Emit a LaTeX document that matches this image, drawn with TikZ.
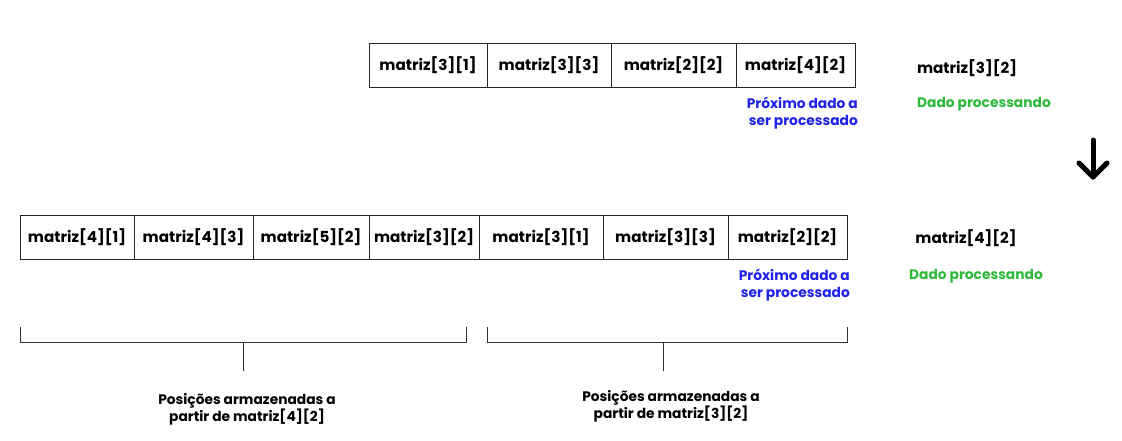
\documentclass[tikz,border=0pt]{standalone}
\usepackage{fontspec}
\setmainfont{Poppins}
\usetikzlibrary{arrows.meta}
\definecolor{nextblue}{HTML}{1F22E8}
\definecolor{procgreen}{HTML}{2DB83A}
\begin{document}
\begin{tikzpicture}[x=1pt,y=-1pt,
  cell/.style={draw=black!85,line width=0.9pt,outer sep=0pt,minimum height=44pt,inner sep=0pt,font=\bfseries\fontsize{15.2}{17}\selectfont,anchor=west},
  lbl/.style={font=\bfseries\fontsize{15.2}{17}\selectfont,inner sep=0pt},
  note/.style={font=\bfseries\fontsize{13.8}{17}\selectfont,inner sep=0pt,align=right},
  gnote/.style={font=\bfseries\fontsize{13.8}{17}\selectfont,inner sep=0pt,text=procgreen},
  captext/.style={font=\bfseries\fontsize{13.8}{17}\selectfont,inner sep=0pt,align=center},
  brk/.style={draw=black!80,line width=0.9pt},
  bigarrow/.style={line width=5pt,line cap=round,line join=round}]
\useasboundingbox (0,0) rectangle (1122,440);
% top row
\node[cell,minimum width=118pt] (t1) at (369,65) {matriz[3][1]};
\node[cell,minimum width=124pt] (t2) at (t1.east) {matriz[3][3]};
\node[cell,minimum width=125pt] (t3) at (t2.east) {matriz[2][2]};
\node[cell,minimum width=119pt] (t4) at (t3.east) {matriz[4][2]};
\node[lbl] (tp) at (967,68) {matriz[3][2]};
\node[note,text=nextblue,anchor=north east] (tn) at (858,97) {Próximo dado a\\ser processado};
\node[gnote] (tg) at (984,104) {Dado processando};
% arrow
\coordinate (a1) at (1093,140);
\coordinate (a2) at (1093,177);
\coordinate (h1) at (1079,163);
\coordinate (h2) at (1107,163);
\draw[bigarrow] (a1) -- (a2);
\draw[bigarrow] (h1) -- (a2) -- (h2);
% bottom row
\node[cell,minimum width=114pt] (b1) at (20,237) {matriz[4][1]};
\node[cell,minimum width=119pt] (b2) at (b1.east) {matriz[4][3]};
\node[cell,minimum width=116pt] (b3) at (b2.east) {matriz[5][2]};
\node[cell,minimum width=110pt] (b4) at (b3.east) {matriz[3][2]};
\node[cell,minimum width=124pt] (b5) at (b4.east) {matriz[3][1]};
\node[cell,minimum width=125pt] (b6) at (b5.east) {matriz[3][3]};
\node[cell,minimum width=119pt] (b7) at (b6.east) {matriz[2][2]};
\node[lbl] (bp) at (966,238) {matriz[4][2]};
\node[note,text=nextblue,anchor=north east] (bn) at (850,269) {Próximo dado a\\ser processado};
\node[gnote] (bg) at (976,276) {Dado processando};
% brackets
\coordinate (l1) at (20,327); \coordinate (l2) at (20,342);
\coordinate (l3) at (466,342); \coordinate (l4) at (466,327);
\coordinate (ls1) at (243,342); \coordinate (ls2) at (243,371);
\draw[brk] (l1) -- (l2) -- (l3) -- (l4);
\draw[brk] (ls1) -- (ls2);
\coordinate (r1) at (487,327); \coordinate (r2) at (487,342);
\coordinate (r3) at (847,342); \coordinate (r4) at (847,327);
\coordinate (rs1) at (663,342); \coordinate (rs2) at (663,371);
\draw[brk] (r1) -- (r2) -- (r3) -- (r4);
\draw[brk] (rs1) -- (rs2);
\node[captext] (lc) at (247,409) {Posições armazenadas a\\partir de matriz[4][2]};
\node[captext] (rc) at (671,406) {Posições armazenadas a\\partir de matriz[3][2]};
\end{tikzpicture}
\end{document}
